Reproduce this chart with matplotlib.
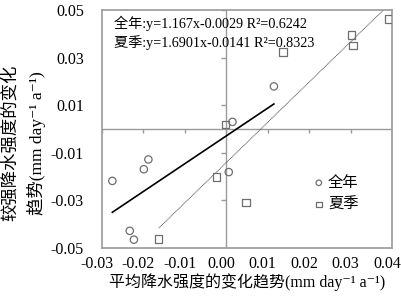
import numpy as np
import matplotlib
matplotlib.use("Agg")
import matplotlib.pyplot as plt
from matplotlib.transforms import ScaledTranslation

plt.rcParams['font.family'] = ['Liberation Serif', 'Noto Sans CJK SC', 'DejaVu Serif']

# 全年 (annual) points
year_x = [0.0115, 0.0015, -0.0275, -0.0199, -0.0188, -0.0233, -0.0223, 0.0006]
year_y = [0.0179, 0.0030, -0.0218, -0.0169, -0.0128, -0.0428, -0.0465, -0.0181]
# 夏季 (summer) points
summer_x = [0.0393, 0.0303, 0.0306, 0.0137, -0.0002, -0.0023, 0.0048, -0.0163]
summer_y = [0.0462, 0.0395, 0.0351, 0.0323, 0.0019, -0.0202, -0.0309, -0.0462]

# fitted lines as printed on the chart
year_fit = (1.167, -0.0029)
summer_fit = (1.6901, -0.0141)

xticks = np.arange(-0.03, 0.0401, 0.01)
yticks = np.arange(-0.05, 0.0501, 0.02)

grey = '#9a9a9a'
mark = '#6e6e6e'

fig = plt.figure(figsize=(4.02, 2.97), dpi=100)
ax = fig.add_axes([0.2537, 0.165, 0.7214, 0.8013])

ax.scatter(year_x, year_y, s=28, marker='o', facecolor='none',
           edgecolor=mark, linewidth=0.9, label='全年', zorder=3)
ax.scatter(summer_x, summer_y, s=28, marker='s', facecolor='none',
           edgecolor=mark, linewidth=0.9, label='夏季', zorder=3)

xs = np.array([min(year_x), max(year_x)])
ax.plot(xs, year_fit[0] * xs + year_fit[1], color='black', lw=1.2)
xs = np.array([min(summer_x), max(summer_x)])
ax.plot(xs, summer_fit[0] * xs + summer_fit[1], color='#555555', lw=0.7,
        ls=(0, (1, 0.6)))

# zero lines with their own tick marks
ax.axhline(0, color=grey, lw=1.0, zorder=1)
ax.axvline(0, color=grey, lw=1.0, zorder=1)
ax.vlines(xticks, -0.0018, 0, color=grey, lw=1.0, zorder=1)
ax.hlines(yticks, -0.0012, 0, color=grey, lw=1.0, zorder=1)

ax.set_xlim(-0.03, 0.04)
ax.set_ylim(-0.05, 0.05)
ax.set_xticks(xticks)
ax.set_yticks(yticks)
ax.set_xticklabels(['%.2f' % v for v in xticks])
ax.set_yticklabels(['%.2f' % v for v in yticks])
ax.tick_params(length=0, labelsize=11.5)
ax.tick_params(axis='y', pad=13)
ax.tick_params(axis='x', pad=6)
shift = ScaledTranslation(-0.05, 0, fig.dpi_scale_trans)
for lab in ax.get_xticklabels():
    lab.set_transform(lab.get_transform() + shift)
for s in ax.spines.values():
    s.set_color(grey)
    s.set_linewidth(1.2)

ax.text(0.042, 0.946, '全年:y=1.167x-0.0029 R²=0.6242', transform=ax.transAxes,
        fontsize=10.2, va='center')
ax.text(0.042, 0.862, '夏季:y=1.6901x-0.0141 R²=0.8323', transform=ax.transAxes,
        fontsize=10.2, va='center')

ax.legend(loc='upper left', bbox_to_anchor=(0.695, 0.335), frameon=False,
          fontsize=11, markerscale=0.75, handletextpad=0.1,
          labelspacing=0.5, borderpad=0, handlelength=1.0)

ax.set_xlabel('平均降水强度的变化趋势(mm day⁻¹ a⁻¹)', fontsize=11.5,
              labelpad=1)
fig.text(24 / 402, 1 - 143 / 297, '较强降水强度的变化\n趋势(mm day⁻¹ a⁻¹)',
         rotation=90, ha='center', va='center', fontsize=12.5, linespacing=1.5)

fig.savefig('out.png', dpi=100)
